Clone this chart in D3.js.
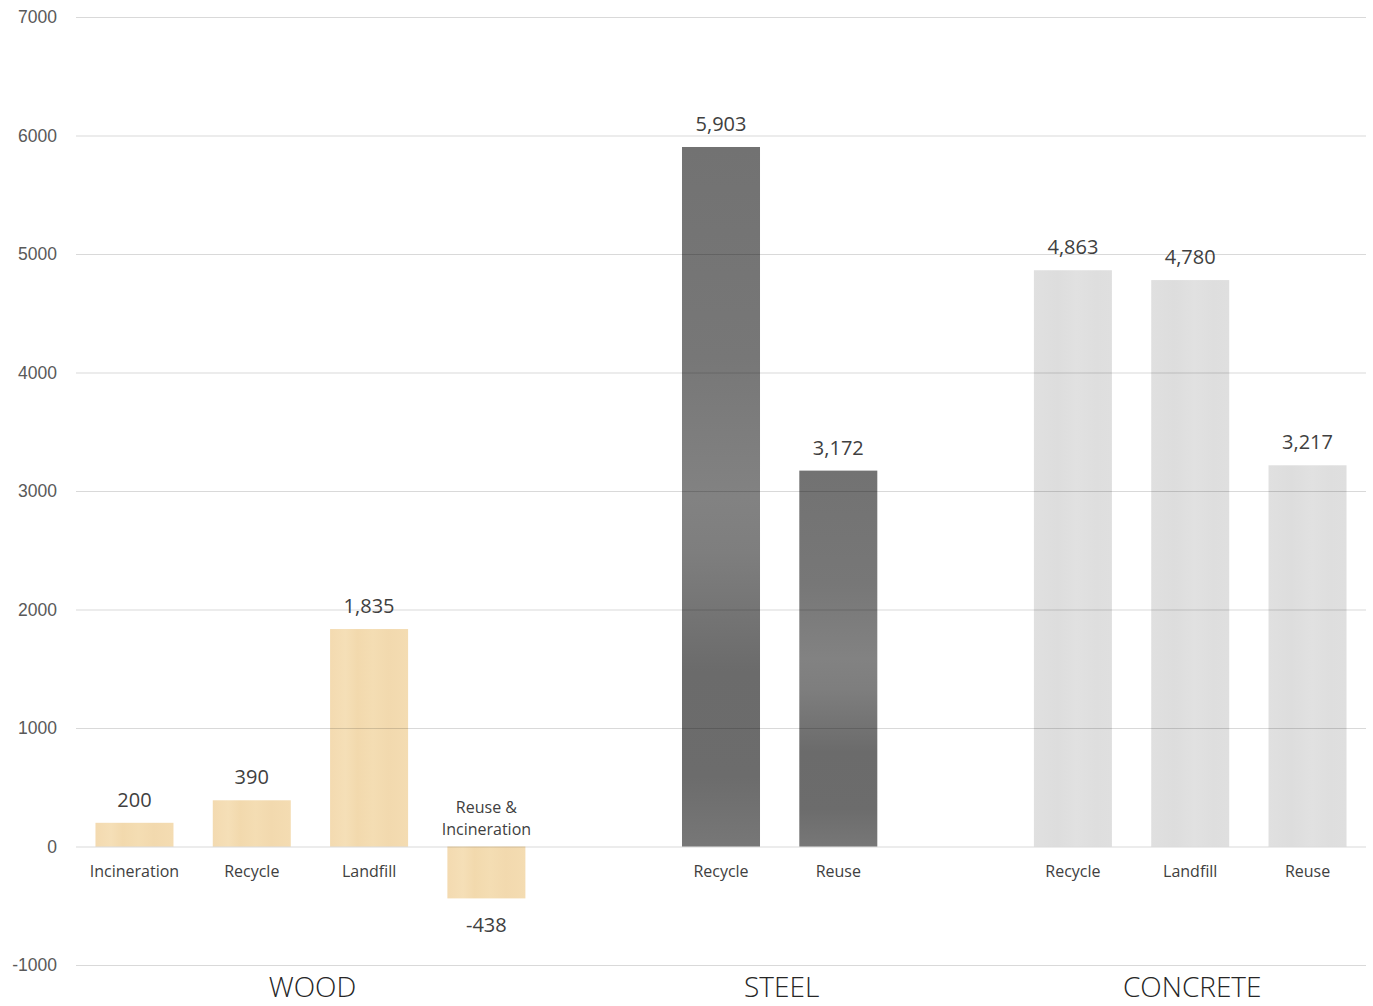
<!DOCTYPE html>
<html>
<head>
<meta charset="utf-8">
<script src="https://cdn.jsdelivr.net/npm/d3@7"></script>
<style>
  html, body { margin: 0; padding: 0; background: #fff; }
  svg { display: block; font-family: "Segoe UI", "Open Sans", "Noto Sans", sans-serif; }
</style>
</head>
<body>
<svg id="chart" width="1373" height="1006"></svg>
<script>
// ---- data ----
const groups = ["WOOD", "STEEL", "CONCRETE"];
const categories = ["Incineration", "Recycle", "Landfill", "Reuse & Incineration", "Recycle", "Reuse", "Recycle", "Landfill", "Reuse"];
const categoryGroup = ["WOOD", "WOOD", "WOOD", "WOOD", "STEEL", "STEEL", "CONCRETE", "CONCRETE", "CONCRETE"];
const values = [200, 390, 1835, -438, 5903, 3172, 4863, 4780, 3217];
const yTicks = [-1000, 0, 1000, 2000, 3000, 4000, 5000, 6000, 7000];

// ---- layout ----
const plotLeft = 76, plotRight = 1366;
const svg = d3.select("#chart");

// slots: bars of each group, with an empty slot between groups
const slots = [];
groups.forEach((g, gi) => {
  if (gi > 0) slots.push("gap" + gi);
  categories.forEach((c, i) => { if (categoryGroup[i] === g) slots.push("bar" + i); });
});

const x = d3.scaleBand().domain(slots).range([plotLeft, plotRight])
  .paddingInner(0.335).paddingOuter(0.166);
const y = d3.scaleLinear().domain([-1000, 7000]).range([965, 17]);

// ---- fills ----
const defs = svg.append("defs");
function grad(id, horizontal, stops) {
  const g = defs.append("linearGradient").attr("id", id)
    .attr("x1", 0).attr("y1", 0).attr("x2", horizontal ? 1 : 0).attr("y2", horizontal ? 0 : 1);
  stops.forEach(s => g.append("stop").attr("offset", s[0]).attr("stop-color", s[1]));
}
grad("wood", true, [[0, "#f3dab0"], [0.2, "#f5dfb7"], [0.35, "#f2d9ad"], [0.55, "#f4ddb3"], [0.75, "#f2d9ae"], [1, "#f4dcb2"]]);
grad("steel", false, [[0, "#727272"], [0.3, "#777777"], [0.5, "#828282"], [0.58, "#7e7e7e"], [0.75, "#6b6b6b"], [0.9, "#6c6c6c"], [1, "#777777"]]);
grad("concrete", true, [[0, "#e0e0e0"], [0.3, "#dddddd"], [0.55, "#e1e1e1"], [0.8, "#dedede"], [1, "#dfdfdf"]]);
const fillFor = { WOOD: "url(#wood)", STEEL: "url(#steel)", CONCRETE: "url(#concrete)" };

// ---- bars ----
const data = values.map((v, i) => ({ v, i, cat: categories[i], group: categoryGroup[i] }));
svg.append("g").selectAll("rect").data(data).join("rect")
  .attr("x", d => x("bar" + d.i))
  .attr("width", x.bandwidth())
  .attr("y", d => y(Math.max(0, d.v)))
  .attr("height", d => Math.abs(y(d.v) - y(0)))
  .attr("fill", d => fillFor[d.group]);

// ---- gridlines (drawn over bars, semi-transparent) ----
const hy = s => s.replace(/\u2212/g, "-");
const yAxis = d3.axisLeft(y).tickValues(yTicks).tickSize(-(plotRight - plotLeft))
  .tickFormat(d => hy(d3.format("d")(d))).tickPadding(18);
const ga = svg.append("g").attr("transform", `translate(${plotLeft},0)`).call(yAxis);
ga.select(".domain").remove();
ga.selectAll(".tick line").attr("stroke", "#000").attr("stroke-opacity", 0.15).attr("stroke-width", 1);
ga.selectAll(".tick text").attr("fill", "#595959").style("font-size", "17.5px").attr("x", -19);

// ---- value labels ----
const fmt = d3.format(",");
svg.append("g").selectAll("text").data(data).join("text")
  .attr("x", d => x("bar" + d.i) + x.bandwidth() / 2)
  .attr("y", d => d.v >= 0 ? y(d.v) - 16 : y(d.v) + 34)
  .attr("text-anchor", "middle")
  .attr("fill", "#404040")
  .style("font-size", "20px")
  .text(d => hy(fmt(d.v)));

// ---- category labels ----
const catG = svg.append("g");
data.forEach(d => {
  const cx = x("bar" + d.i) + x.bandwidth() / 2;
  if (d.v >= 0) {
    catG.append("text").attr("x", cx).attr("y", 877).attr("text-anchor", "middle")
      .attr("fill", "#404040").style("font-size", "16px").text(d.cat);
  } else {
    const parts = d.cat.split(" & ");
    const t = catG.append("text").attr("x", cx).attr("y", 813).attr("text-anchor", "middle")
      .attr("fill", "#404040").style("font-size", "16px");
    t.append("tspan").attr("x", cx).text(parts[0] + " &");
    t.append("tspan").attr("x", cx).attr("dy", 22).text(parts[1]);
  }
});

// ---- group labels ----
svg.append("g").selectAll("text").data(groups).join("text")
  .attr("x", g => {
    const idx = categories.map((c, i) => i).filter(i => categoryGroup[i] === g);
    const a = x("bar" + idx[0]), b = x("bar" + idx[idx.length - 1]) + x.bandwidth();
    return (a + b) / 2 + 2;
  })
  .attr("y", 997)
  .attr("text-anchor", "middle")
  .attr("fill", "#262626")
  .style("font-size", "28px")
  .style("font-weight", 300)
  .text(g => g);
</script>
</body>
</html>
